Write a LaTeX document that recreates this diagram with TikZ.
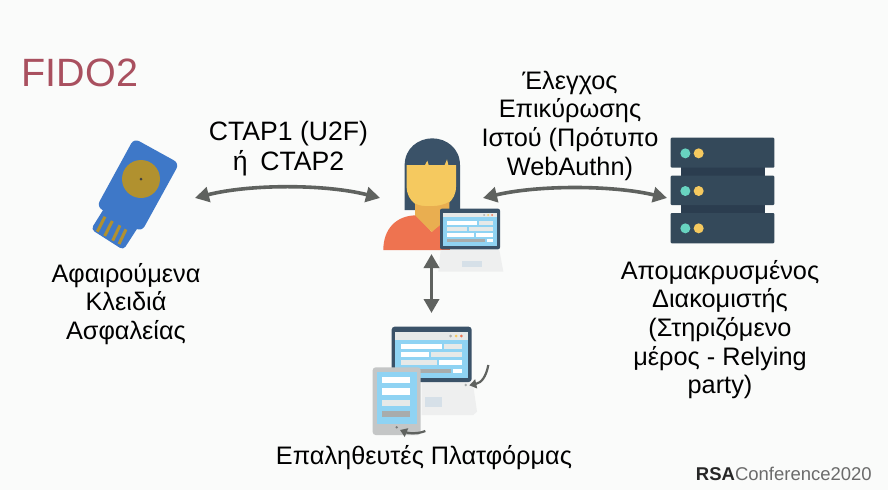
\documentclass[tikz,border=0pt]{standalone}
\usepackage{fontspec}
\setmainfont{Liberation Sans}
\usetikzlibrary{arrows.meta}
\definecolor{bgc}{HTML}{FAFBFA}
\definecolor{arrowc}{HTML}{5F625F}
\definecolor{fidoc}{HTML}{A9505F}
\definecolor{keyblue}{HTML}{3E78C8}
\definecolor{keygold}{HTML}{B1912F}
\definecolor{navy}{HTML}{3A5268}
\definecolor{navyd}{HTML}{2B3D4F}
\definecolor{srv}{HTML}{34495A}
\definecolor{teal}{HTML}{68D3C0}
\definecolor{yell}{HTML}{F5C95F}
\definecolor{neck}{HTML}{E9AE50}
\definecolor{shirt}{HTML}{EE7350}
\definecolor{scr}{HTML}{8FD3F3}
\definecolor{lite}{HTML}{E6E9E8}
\definecolor{base}{HTML}{EEEFEF}
\definecolor{pad}{HTML}{D6E0E8}
\definecolor{midg}{HTML}{A8ACAC}
\definecolor{tabg}{HTML}{C4C6C6}
\tikzset{
  lbl/.style={font=\fontsize{25.3}{28.7}\selectfont,align=center,inner sep=0pt,text=black},
  icon/.style={inner sep=0pt,outer sep=0pt},
  link/.style={draw=arrowc,line width=3.6pt,{Triangle[length=14pt,width=15pt]}-{Triangle[length=14pt,width=15pt]}},
  minilink/.style={draw=arrowc,line width=2.2pt,-{Triangle[length=7pt,width=9pt]}},
  zoomed/.style={x=0.33333pt,y=-0.33333pt}
}
\begin{document}
\begin{tikzpicture}[x=1pt,y=-1pt]
\useasboundingbox (0,0) rectangle (888,490);
\fill[bgc] (0,0) rectangle (888,490);

% security key icon
\begin{scope}[shift={(60,120)},zoomed]
  \fill[keyblue,rounded corners=4pt] (140,253) -- (245,305) -- (190,390) -- (93,328) -- cycle;
  \fill[keyblue,rounded corners=6pt] (222,55) -- (358,130) -- (245,335) -- (110,260) -- cycle;
  \fill[keygold] (243,177) circle [radius=57];
  \fill[black!75] (243,177) circle [radius=4.5];
  \foreach \a/\b/\c/\d in {135/290/112/335, 157/303/134/348, 180/316/158/362, 198/328/177/372}
    \draw[keygold,line width=3pt] (\a,\b) -- (\c,\d);
\end{scope}

% user icon
\begin{scope}[shift={(370,130)},zoomed]
  \fill[navy] (104,240) -- (104,105) .. controls (104,55) and (145,25) .. (187,25) .. controls (229,25) and (270,55) .. (270,105) -- (270,240) -- cycle;
  \fill[neck] (135,200) rectangle (238,300);
  \fill[shirt] (40,360) .. controls (40,295) and (80,258) .. (135,256) -- (185,306) -- (235,256) -- (240,360) -- cycle;
  \fill[yell] (110,105) -- (165,105) -- (172,92) -- (176,105) -- (224,105) -- (231,88) -- (235,105) -- (258,105) -- (258,170) .. controls (258,215) and (220,236) .. (184,236) .. controls (148,236) and (110,215) .. (110,170) -- cycle;
  \fill[neck] (138,222) .. controls (155,232) and (215,232) .. (238,215) -- (238,262) -- (185,306) -- (138,256) -- cycle;
  \fill[base] (212,360) -- (388,360) -- (400,425) -- (205,425) -- cycle;
  \fill[pad] (277,392) rectangle (335,412);
  \fill[navy,rounded corners=2pt] (210,236) rectangle (390,358);
  \fill[scr] (220,248) rectangle (380,348);
  \fill[lite] (220,248) rectangle (380,262);
  \fill[midg] (342,255) circle [radius=3];
  \fill[yell] (354,255) circle [radius=3];
  \fill[shirt] (366,255) circle [radius=3];
  \fill[white] (230,273) rectangle (320,284);
  \fill[lite] (326,273) rectangle (370,284);
  \fill[lite] (230,291) rectangle (292,303);
  \fill[lite] (298,291) rectangle (370,303);
  \fill[white] (230,310) rectangle (312,320);
  \fill[white] (318,310) rectangle (370,320);
  \fill[midg] (230,328) rectangle (345,337);
  \fill[white] (350,328) rectangle (370,337);
\end{scope}

% server icon
\begin{scope}[shift={(650,125)},zoomed]
  \fill[navyd] (92,120) rectangle (345,270);
  \foreach \t/\b/\m in {38/128/85, 152/240/198, 264/355/310}{
    \fill[srv,rounded corners=1pt] (62,\t) rectangle (373,\b);
    \fill[teal] (106,\m) circle [radius=15];
    \fill[yell] (146,\m) circle [radius=15];
  }
\end{scope}

% platform icon
\begin{scope}[shift={(350,280)},zoomed]
  \fill[base] (215,305) -- (368,305) -- (381,395) -- (370,405) -- (215,405) -- cycle;
  \fill[pad] (225,352) rectangle (275,382);
  \fill[navy,rounded corners=3pt] (125,140) rectangle (365,306);
  \fill[scr] (135,155) rectangle (355,295);
  \fill[lite] (135,155) rectangle (355,180);
  \fill[midg] (302,168) circle [radius=4.5];
  \fill[yell] (318,168) circle [radius=4.5];
  \fill[shirt] (334,168) circle [radius=4.5];
  \fill[white] (152,192) rectangle (275,206);
  \fill[lite] (282,192) rectangle (335,206);
  \fill[white] (152,217) rectangle (237,230);
  \fill[lite] (243,217) rectangle (335,230);
  \fill[lite] (152,241) rectangle (260,254);
  \fill[white] (267,241) rectangle (335,254);
  \fill[midg] (200,266) rectangle (302,278);
  \fill[white] (310,266) rectangle (335,278);
  \fill[midg] (347,315) circle [radius=4];
  \fill[tabg,rounded corners=3pt] (68,262) rectangle (212,465);
  \fill[scr] (80,275) rectangle (200,432);
  \fill[white] (97,290) rectangle (181,310);
  \fill[white] (97,325) rectangle (181,345);
  \fill[lite] (97,360) rectangle (181,378);
  \fill[midg] (97,393) rectangle (181,411);
  \fill[midg!70!black] (140,442) circle [radius=4];
  \coordinate (lapfrom) at (415,255);
  \coordinate (lapto) at (358,316);
  \coordinate (tabfrom) at (226,453);
  \coordinate (tabto) at (150,450);
  \draw[minilink] (lapfrom) .. controls (408,290) and (395,308) .. (lapto);
  \draw[minilink] (tabfrom) .. controls (205,462) and (175,460) .. (tabto);
\end{scope}

% anchor nodes for the icons
\node[icon,minimum width=116pt,minimum height=135pt] (keyn) at (137,198) {};
\node[icon,minimum width=103pt,minimum height=114pt] (usern) at (431.5,197) {};
\node[icon,minimum width=108pt,minimum height=108pt] (servn) at (721,190) {};
\node[icon,minimum width=130pt,minimum height=125pt] (platn) at (431.5,375.5) {};

% connectors
\draw[link] (keyn.east |- 0,198) .. controls +(55,-14) and +(-55,-14) .. (usern.west |- 0,198);
\draw[link] (usern.east |- 0,198) .. controls +(55,-13) and +(-55,-13) .. (servn.west |- 0,198);
\draw[link] (usern.south) -- (platn.north);

% labels
\node[font=\fontsize{39.5}{39.5}\selectfont,text=fidoc,inner sep=0pt,anchor=west] (title) at (21.5,73) {FIDO2};
\node[lbl,font=\fontsize{26.6}{30}\selectfont] (ctap) at (288.5,149) {CTAP1 (U2F)\\ή\hspace{0.2em} CTAP2};
\node[lbl] (webauthn) at (570,125.5) {Έλεγχος\\Επικύρωσης\\Ιστού (Πρότυπο\\WebAuthn)};
\node[lbl] (keylbl) at (126,304) {Αφαιρούμενα\\Κλειδιά\\Ασφαλείας};
\node[lbl] (srvlbl) at (720,329.5) {Απομακρυσμένος\\Διακομιστής\\(Στηριζόμενο\\μέρος - Relying\\party)};
\node[lbl] (platlbl) at (424,458) {Επαληθευτές Πλατφόρμας};
\node[inner sep=0pt,anchor=east,font=\fontsize{18.5}{18.5}\selectfont] (rsa) at (872,474) {\textcolor{black!85}{\textbf{RSA}}\textcolor{black!58}{Conference2020}};
\end{tikzpicture}
\end{document}
